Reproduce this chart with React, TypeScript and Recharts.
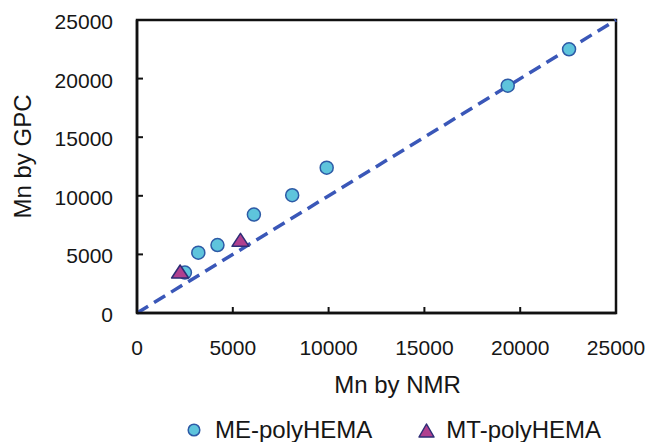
import {
  Legend,
  ReferenceArea,
  ReferenceLine,
  Scatter,
  ScatterChart,
  XAxis,
  YAxis,
} from "recharts";

// Mn by NMR (x) / Mn by GPC (y)
const meNmr = [2500, 3200, 4200, 6100, 8100, 9900, 19350, 22550];
const meGpc = [3450, 5150, 5800, 8400, 10050, 12400, 19400, 22500];
const mtNmr = [2250, 5400];
const mtGpc = [3500, 6200];
const axisTicks = [0, 5000, 10000, 15000, 20000, 25000];
const parityLine = [
  { x: 0, y: 0 },
  { x: 25000, y: 25000 },
];

const meData = meNmr.map((x, i) => ({ x, y: meGpc[i] }));
const mtData = mtNmr.map((x, i) => ({ x, y: mtGpc[i] }));

const FONT = '"Liberation Sans", Arial, sans-serif';
const TEXT = "#161616";
const AXIS = "#111";
const CIRCLE_FILL = "#5ec4dc";
const CIRCLE_STROKE = "#2d5aa6";
const TRI_FILL = "#b0408f";
const TRI_STROKE = "#2e2d76";
const X_GAP = 27; // axis line -> tick label top
const Y_GAP = 24; // axis line -> tick label right edge
const INNER_TICK = 6;

const CircleDot = (props: any) => (
  <circle
    cx={props.cx}
    cy={props.cy}
    r={6.5}
    fill={CIRCLE_FILL}
    stroke={CIRCLE_STROKE}
    strokeWidth={1.5}
  />
);

const TriangleDot = (props: any) => {
  const { cx, cy } = props;
  return (
    <polygon
      points={`${cx},${cy - 7} ${cx + 8.5},${cy + 6} ${cx - 8.5},${cy + 6}`}
      fill={TRI_FILL}
      stroke={TRI_STROKE}
      strokeWidth={1.5}
      strokeLinejoin="round"
    />
  );
};

// tick label plus a short inward tick mark
const XTick = (props: any) => {
  const { x, y, payload } = props;
  const axisY = y - X_GAP;
  return (
    <g>
      <line x1={x} x2={x} y1={axisY} y2={axisY - INNER_TICK} stroke={AXIS} strokeWidth={2} />
      <text x={x} y={y} dy="0.71em" textAnchor="middle" fontSize={21} fontFamily={FONT} fill={TEXT}>
        {payload.value}
      </text>
    </g>
  );
};

const YTick = (props: any) => {
  const { x, y, payload } = props;
  const axisX = x + Y_GAP;
  return (
    <g>
      <line x1={axisX} x2={axisX + INNER_TICK} y1={y} y2={y} stroke={AXIS} strokeWidth={2} />
      <text x={x} y={y + 1.5} dy="0.355em" textAnchor="end" fontSize={21} fontFamily={FONT} fill={TEXT}>
        {payload.value}
      </text>
    </g>
  );
};

const XTitle = (props: any) => {
  const vb = props.viewBox || { x: 137, y: 313, width: 479 };
  return (
    <text
      x={vb.x + vb.width / 2 + 21}
      y={vb.y + 80}
      textAnchor="middle"
      fontSize={24}
      fontFamily={FONT}
      fill={TEXT}
    >
      Mn by NMR
    </text>
  );
};

const YTitle = (props: any) => {
  const vb = props.viewBox || { x: 0, y: 20, width: 137, height: 293 };
  const x = vb.x + 31;
  const y = vb.y + vb.height / 2 - 10;
  return (
    <text
      x={x}
      y={y}
      transform={`rotate(-90, ${x}, ${y})`}
      textAnchor="middle"
      fontSize={24}
      fontFamily={FONT}
      fill={TEXT}
    >
      Mn by GPC
    </text>
  );
};

const LegendContent = ({ payload }: any) => (
  <div
    style={{
      height: 28,
      boxSizing: "border-box",
      paddingTop: 4,
      display: "flex",
      alignItems: "center",
      paddingLeft: 187,
      fontSize: 24,
      fontFamily: FONT,
      color: TEXT,
    }}
  >
    {(payload || []).map((entry: any, i: number) => (
      <div key={entry.value} style={{ display: "flex", alignItems: "center" }}>
        {i === 0 ? (
          <svg width={14} height={14}>
            <circle cx={7} cy={7} r={5.8} fill={CIRCLE_FILL} stroke={CIRCLE_STROKE} strokeWidth={1.5} />
          </svg>
        ) : (
          <svg width={17} height={15}>
            <polygon
              points="8.5,1 16,14 1,14"
              fill={TRI_FILL}
              stroke={TRI_STROKE}
              strokeWidth={1.5}
              strokeLinejoin="round"
            />
          </svg>
        )}
        <span style={{ marginLeft: i === 0 ? 14 : 11, marginRight: i === 0 ? 46 : 0 }}>
          {entry.value}
        </span>
      </div>
    ))}
  </div>
);

export default function App() {
  return (
    <div style={{ position: "absolute", left: 0, top: 0, background: "#fff" }}>
      <ScatterChart
        width={646}
        height={442}
        margin={{ top: 20, right: 30, left: 0, bottom: 0 }}
      >
        <ReferenceArea
          x1={0}
          x2={25000}
          y1={0}
          y2={25000}
          fill="none"
          stroke={AXIS}
          strokeWidth={2.5}
        />
        <XAxis
          type="number"
          dataKey="x"
          domain={[0, 25000]}
          ticks={axisTicks}
          height={101}
          tick={<XTick />}
          tickLine={false}
          tickSize={0}
          tickMargin={X_GAP}
          axisLine={{ stroke: AXIS, strokeWidth: 2.5 }}
          label={{ content: XTitle }}
        />
        <YAxis
          type="number"
          dataKey="y"
          domain={[0, 25000]}
          ticks={axisTicks}
          width={137}
          tick={<YTick />}
          tickLine={false}
          tickSize={0}
          tickMargin={Y_GAP}
          axisLine={{ stroke: AXIS, strokeWidth: 2.5 }}
          label={{ content: YTitle }}
        />
        <ReferenceLine
          segment={parityLine}
          stroke="#3a57b8"
          strokeWidth={3.5}
          strokeDasharray="13 7"
        />
        <Scatter
          name="ME-polyHEMA"
          data={meData}
          shape={CircleDot}
          isAnimationActive={false}
        />
        <Scatter
          name="MT-polyHEMA"
          data={mtData}
          shape={TriangleDot}
          isAnimationActive={false}
        />
        <Legend
          verticalAlign="bottom"
          width={646}
          wrapperStyle={{ left: 0 }}
          content={LegendContent}
        />
      </ScatterChart>
    </div>
  );
}
